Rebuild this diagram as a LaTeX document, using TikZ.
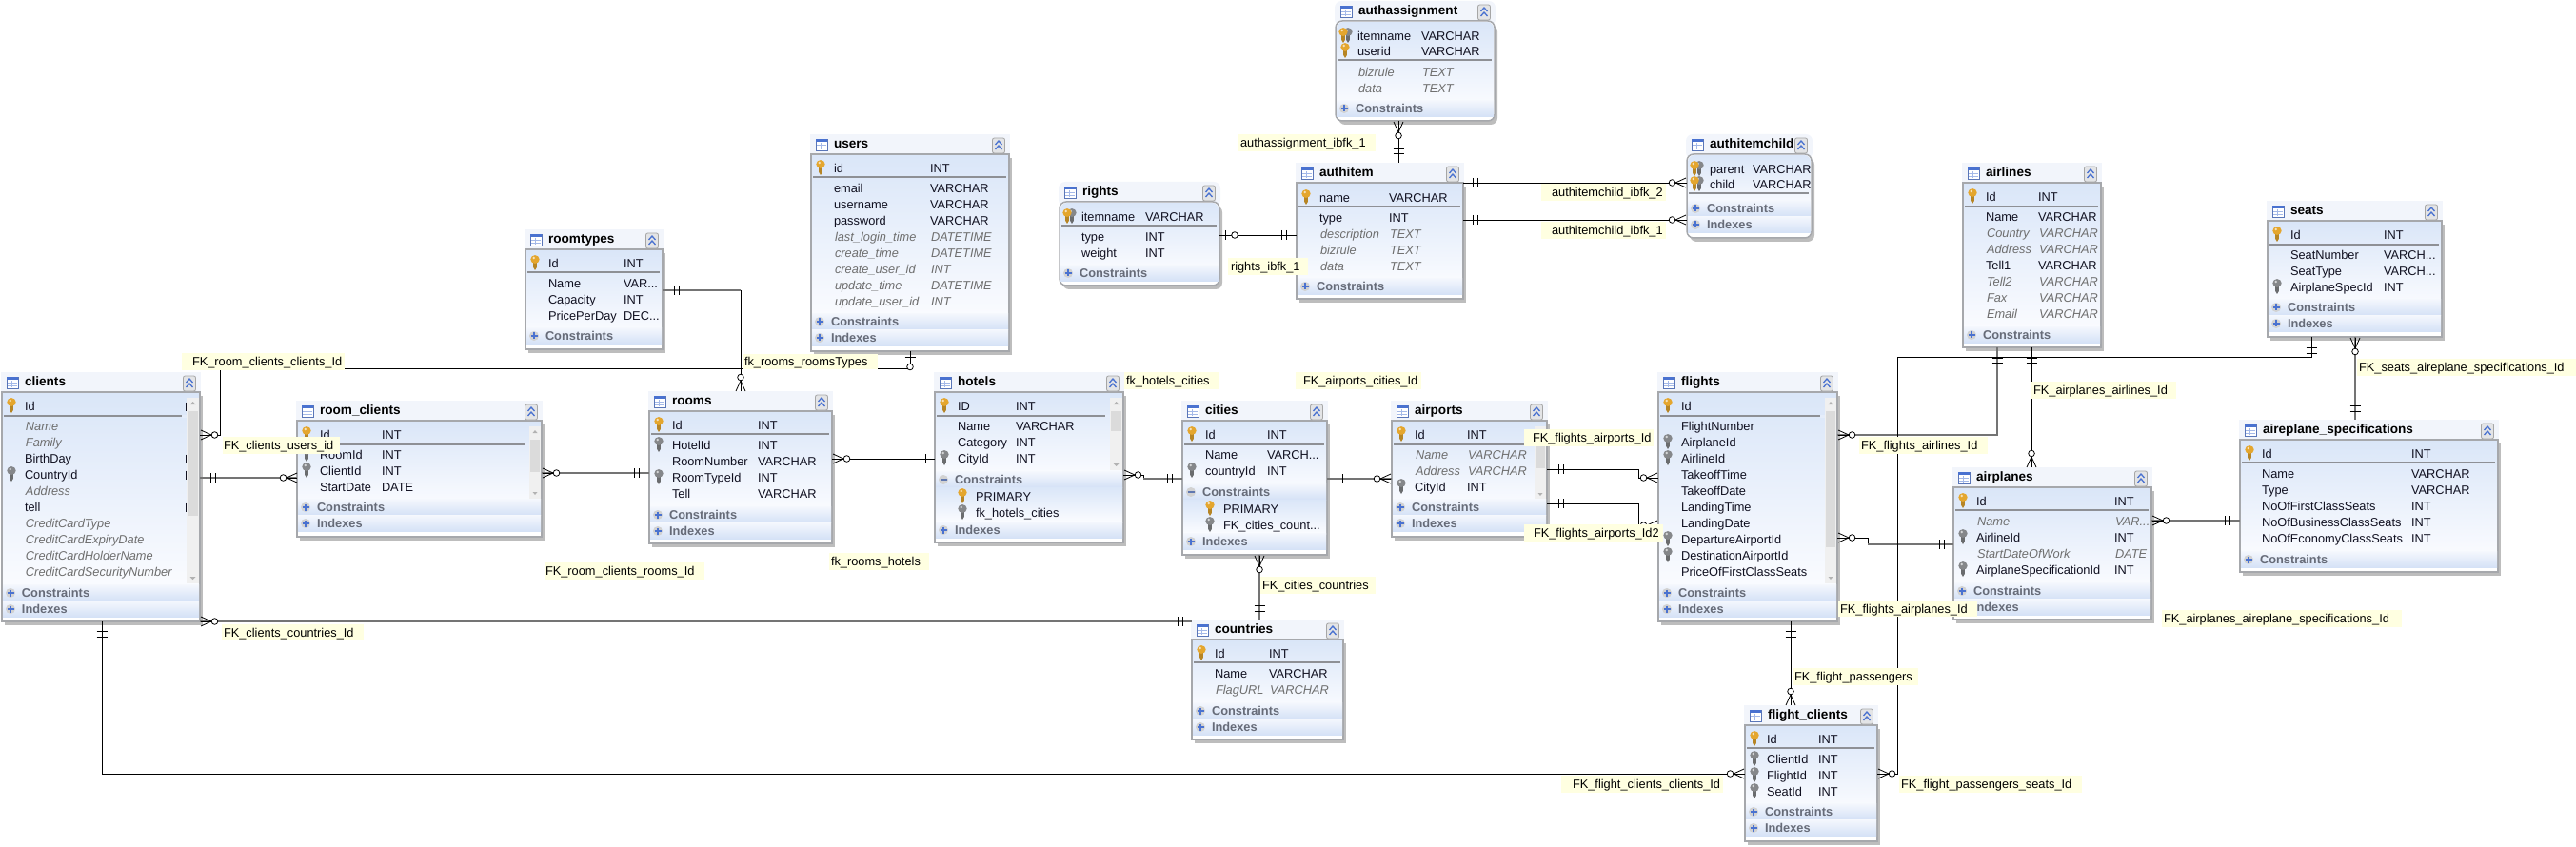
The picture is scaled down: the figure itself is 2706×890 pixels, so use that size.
\documentclass[tikz,border=0pt]{standalone}
\usepackage{fontspec}
\setmainfont{Liberation Sans}
\definecolor{ink}{HTML}{101020}
\definecolor{itc}{HTML}{6E6E6E}
\definecolor{bandc}{HTML}{666B78}
\definecolor{bodytop}{HTML}{DAE6F8}
\definecolor{bodybot}{HTML}{FBFCFF}
\definecolor{bandtop}{HTML}{F4F7FD}
\definecolor{bandbot}{HTML}{D4E1F6}
\definecolor{titlec}{HTML}{F2F5FB}
\definecolor{shadowc}{HTML}{BDBDBD}
\definecolor{borderc}{HTML}{A6A8AC}
\definecolor{sepc}{HTML}{8E9095}
\definecolor{lblc}{HTML}{FFFFE1}
\definecolor{thickc}{HTML}{747474}
\definecolor{goldk}{HTML}{E4A62E}
\definecolor{grayk}{HTML}{85878A}
\definecolor{iconb}{HTML}{4A72D0}
\newcounter{tn}
\tikzset{
  celltext/.style={anchor=west,inner sep=0pt,outer sep=0pt,text height=9pt,text depth=0pt,text=ink,font=\fontsize{12.8}{15}\selectfont},
  cellital/.style={celltext,text=itc,font=\fontsize{12.8}{15}\selectfont\itshape},
  celltitle/.style={celltext,text=black,font=\fontsize{13.6}{15}\selectfont\bfseries},
  cellband/.style={celltext,text=bandc,font=\fontsize{12.8}{15}\selectfont\bfseries},
  tblnode/.style={anchor=north west,inner sep=0pt,outer sep=0pt},
  lblnode/.style={anchor=north west,inner sep=0pt,outer sep=0pt,fill=lblc,text height=9pt,text depth=0pt,text=black,font=\fontsize{12.8}{15}\selectfont},
  fkt/.style={line width=0.9pt,black},
  fkg/.style={line width=2pt,thickc},
  tipl/.style={line width=0.8pt,black},
}
\newcommand\cell[4]{\stepcounter{tn}\node[#3] (t\thetn) at (#1,#2) {#4};}
\newcommand\tblicon[2]{%
  \fill[white] (#1-6,#2-6) rectangle (#1+6,#2+6);
  \draw[iconb!70!gray,line width=0.8pt] (#1-6,#2-6) rectangle (#1+6,#2+6);
  \fill[iconb] (#1-6,#2-6) rectangle (#1+6,#2-3);
  \draw[iconb!50!white,line width=0.7pt] (#1-5,#2) -- (#1+5,#2) (#1-5,#2+3) -- (#1+5,#2+3) (#1-1,#2-2) -- (#1-1,#2+5);}
\newcommand\colbtn[2]{%
  \fill[titlec!70!gray!60!white,rounded corners=2pt] (#1-6.5,#2-8) rectangle (#1+6.5,#2+8);
  \draw[gray!70,line width=0.8pt,rounded corners=2pt] (#1-6.5,#2-8) rectangle (#1+6.5,#2+8);
  \draw[iconb,line width=1.3pt] (#1-3.5,#2-1) -- (#1,#2-5) -- (#1+3.5,#2-1) (#1-3.5,#2+4) -- (#1,#2) -- (#1+3.5,#2+4);}
\newcommand\dbtable[9][]{%
  \def\tx{#4}\def\ty{#5}\def\txr{#6}%
  \fill[shadowc,#1] (#4+3,#5+25) rectangle (#6+3,#7+4);
  \fill[titlec,#1] (#4-1,#5) rectangle (#6+1,#5+26);
  \fill[white,#1] (#4,#5+21) rectangle (#6,#7);
  \shade[top color=bodytop,bottom color=bodybot,#1] (#4+1,#5+22) rectangle (#6-1,#8+8);
  \draw[borderc,line width=1.5pt,#1] (#4,#5+21) rectangle (#6,#7);
  \draw[sepc,line width=1.2pt] (#4+2,#9) -- (#6-3,#9);
  \node[tblnode,minimum width={(#6-#4)*1pt},minimum height={(#7-#5)*1pt}] (#2) at (#4,#5) {};
  \tblicon{#4+11}{#5+11}
  \colbtn{#6-11}{#5+12}
  \cell{#4+24}{#5+10}{celltitle}{#3}}
\newcommand\setcols[2]{\def\ca{#1}\def\cb{#2}}
\newcommand\rr[3]{\cell{\ca}{#1}{celltext}{#2}\cell{\cb}{#1}{celltext}{#3}}
\newcommand\ri[3]{\cell{\ca+1}{#1}{cellital}{#2}\cell{\cb+1}{#1}{cellital}{#3}}
\newcommand\rn[2]{\cell{\ca}{#1}{celltext}{#2}}
\newcommand\rni[2]{\cell{\ca+1}{#1}{cellital}{#2}}
\newcommand\keyicon[3]{%
  \begin{scope}[shift={(#1,#2)}]
    \fill[#3!80!black] (-1.8,-2) -- (1.8,-2) -- (1.8,5) -- (0,8) -- (-1.8,5) -- cycle;
    \fill[#3] (0,-3.5) ellipse (4.7 and 4.4);
    \fill[#3!35!white] (-1.2,-5) circle (1.4);
  \end{scope}}
\newcommand\kg[1]{\keyicon{\tx+10}{#1-1}{goldk}}
\newcommand\kk[1]{\keyicon{\tx+10}{#1-1}{grayk}}
\newcommand\kd[1]{\keyicon{\tx+13}{#1-1}{grayk}\keyicon{\tx+8}{#1-1}{goldk}}
\newcommand\bandshade[1]{\shade[top color=bandtop,bottom color=bandbot] (\tx+1,#1-8.5) rectangle (\txr-1,#1+8.5);}
\newcommand\bplus[1]{%
  \bandshade{#1}
  \fill[gray!35!white] (\tx+9,#1) circle (5);
  \draw[iconb,line width=1.4pt] (\tx+5.5,#1) -- (\tx+12.5,#1) (\tx+9,#1-3.5) -- (\tx+9,#1+3.5);}
\newcommand\bminus[1]{%
  \bandshade{#1}
  \fill[gray!35!white] (\tx+9,#1) circle (5);
  \draw[iconb!60!gray,line width=1.4pt] (\tx+5.5,#1) -- (\tx+12.5,#1);}
\newcommand\band[2]{\bplus{#1}\cell{\tx+21}{#1}{cellband}{#2}}
\newcommand\bandm[2]{\bminus{#1}\cell{\tx+21}{#1}{cellband}{#2}}
\newcommand\subshade[2]{\shade[top color=bodytop,bottom color=bodybot] (\tx+1,#1) rectangle (\txr-1,#2);}
\newcommand\subgold[2]{\keyicon{\tx+29}{#1-1}{goldk}\cell{\tx+43}{#1}{celltext}{#2}}
\newcommand\subgray[2]{\keyicon{\tx+29}{#1-1}{grayk}\cell{\tx+43}{#1}{celltext}{#2}}
\newcommand\scrollb[7]{%
  \fill[bodytop!70!white] (#1-5,#7-1.5) rectangle (#1,#7+1.5);
  \fill[gray!12!white] (#1,#3) rectangle (#2,#4);
  \fill[gray!28!white] (#1+1,#5) rectangle (#2-1,#6);
  \fill[gray!60] (#1+3.5,#3+7) -- (#2-3.5,#3+7) -- ({(#1+#2)/2},#3+4) -- cycle;
  \fill[gray!60] (#1+3.5,#4-7) -- (#2-3.5,#4-7) -- ({(#1+#2)/2},#4-4) -- cycle;}
\newcommand\many[3]{%
  \begin{scope}[shift={(#1,#2)},rotate=#3]
    \draw[tipl] (0,-5) -- (11,0) -- (0,5);
    \draw[tipl] (0,0) -- (11,0);
    \draw[tipl,fill=white] (14.5,0) circle (3.3);
  \end{scope}}
\newcommand\vtk[2]{\draw[tipl] (#1,#2-5) -- (#1,#2+5);}
\newcommand\htk[2]{\draw[tipl] (#1-5.5,#2) -- (#1+5.5,#2);}
\newcommand\lbl[6]{\stepcounter{tn}\node[lblnode,minimum height={(#4-#2)*1pt}] (l\thetn) at (#1,#2) {\makebox[\dimexpr#3pt-#1pt\relax][l]{\hspace{\dimexpr#5pt-#1pt\relax}#6}};}
\begin{document}
\begin{tikzpicture}[x=1pt,y=-1pt]
\useasboundingbox (0,0) rectangle (2706,890);
% ---- clients
\dbtable{clients}{clients}{2}{391}{210}{653}{615}{437}
\setcols{26}{195}
\kg{427}\rn{427}{Id}
\rni{448}{Name}\rni{465}{Family}\rn{482}{BirthDay}\kk{499}\rn{499}{CountryId}
\rni{516}{Address}\rn{533}{tell}\rni{550}{CreditCardType}\rni{567}{CreditCardExpiryDate}
\rni{584}{CreditCardHolderName}\rni{601}{CreditCardSecurityNumber}
\scrollb{196}{209}{418}{613}{432}{542}{437}
\foreach \yy in {427,482,499,533} {\draw[ink,line width=0.9pt] (195.5,\yy-4.5) -- (195.5,\yy+4.5);}
\band{623}{Constraints}\band{640}{Indexes}
% ---- room_clients
\dbtable{room_clients}{room\_clients}{312}{421}{569}{564}{525}{467}
\setcols{336}{401}
\kg{457}\rr{457}{Id}{INT}\kk{478}\rr{478}{RoomId}{INT}\kk{495}\rr{495}{ClientId}{INT}\rr{512}{StartDate}{DATE}
\scrollb{556}{568}{448}{524}{462}{496}{467}
\band{533}{Constraints}\band{550}{Indexes}
% ---- roomtypes
\dbtable{roomtypes}{roomtypes}{552}{241}{696}{367}{345}{286}
\setcols{576}{655}
\kg{277}\rr{277}{Id}{INT}\rr{298}{Name}{VAR...}\rr{315}{Capacity}{INT}\rr{332}{PricePerDay}{DEC...}
\band{353}{Constraints}
% ---- users
\dbtable{users}{users}{852}{141}{1060}{369}{330}{186}
\setcols{876}{977}
\kg{177}\rr{177}{id}{INT}\rr{198}{email}{VARCHAR}\rr{215}{username}{VARCHAR}\rr{232}{password}{VARCHAR}
\ri{249}{last\_login\_time}{DATETIME}\ri{266}{create\_time}{DATETIME}\ri{283}{create\_user\_id}{INT}
\ri{300}{update\_time}{DATETIME}\ri{317}{update\_user\_id}{INT}
\band{338}{Constraints}\band{355}{Indexes}
% ---- rooms
\dbtable{rooms}{rooms}{682}{411}{874}{571}{532}{456}
\setcols{706}{796}
\kg{447}\rr{447}{Id}{INT}\kk{468}\rr{468}{HotelId}{INT}\rr{485}{RoomNumber}{VARCHAR}\kk{502}\rr{502}{RoomTypeId}{INT}\rr{519}{Tell}{VARCHAR}
\band{541}{Constraints}\band{558}{Indexes}
% ---- hotels
\dbtable{hotels}{hotels}{982}{391}{1180}{570}{495}{437}
\setcols{1006}{1067}
\kg{427}\rr{427}{ID}{INT}\rr{448}{Name}{VARCHAR}\rr{465}{Category}{INT}\kk{482}\rr{482}{CityId}{INT}
\scrollb{1166}{1179}{418}{494}{432}{453}{437}
\bandm{504}{Constraints}
\subshade{512}{549}
\subgold{522}{PRIMARY}\subgray{539}{fk\_hotels\_cities}
\band{557}{Indexes}
% ---- cities
\dbtable{cities}{cities}{1242}{421}{1394}{583}{508}{467}
\setcols{1266}{1331}
\kg{457}\rr{457}{Id}{INT}\rr{478}{Name}{VARCH...}\kk{495}\rr{495}{countryId}{INT}
\bandm{517}{Constraints}
\subshade{525}{561}
\subgold{535}{PRIMARY}\subgray{552}{FK\_cities\_count...}
\band{569}{Indexes}
% ---- airports
\dbtable{airports}{airports}{1462}{421}{1625}{564}{525}{467}
\setcols{1486}{1541}
\kg{457}\rr{457}{Id}{INT}\ri{478}{Name}{VARCHAR}\ri{495}{Address}{VARCHAR}\kk{512}\rr{512}{CityId}{INT}
\scrollb{1612}{1624}{448}{525}{462}{492}{467}
\band{533}{Constraints}\band{550}{Indexes}
% ---- flights
\dbtable{flights}{flights}{1742}{391}{1930}{653}{615}{437}
\setcols{1766}{1900}
\kg{427}\rn{427}{Id}\rn{448}{FlightNumber}\kk{465}\rn{465}{AirplaneId}\kk{482}\rn{482}{AirlineId}
\rn{499}{TakeoffTime}\rn{516}{TakeoffDate}\rn{533}{LandingTime}\rn{550}{LandingDate}
\kk{567}\rn{567}{DepartureAirportId}\kk{584}\rn{584}{DestinationAirportId}\rn{601}{PriceOfFirstClassSeats}
\scrollb{1917}{1929}{418}{613}{432}{575}{437}
\band{623}{Constraints}\band{640}{Indexes}
% ---- countries
\dbtable{countries}{countries}{1252}{651}{1411}{777}{739}{696}
\setcols{1276}{1333}
\kg{687}\rr{687}{Id}{INT}\rr{708}{Name}{VARCHAR}\ri{725}{FlagURL}{VARCHAR}
\band{747}{Constraints}\band{764}{Indexes}
% ---- authassignment
\dbtable[rounded corners=7pt]{authassignment}{authassignment}{1403}{1}{1570}{127}{106}{63}
\setcols{1426}{1493}
\kd{38}\rr{38}{itemname}{VARCHAR}\kg{54}\rr{54}{userid}{VARCHAR}\ri{76}{bizrule}{TEXT}\ri{93}{data}{TEXT}
\band{114}{Constraints}
% ---- authitem
\dbtable{authitem}{authitem}{1362}{171}{1537}{314}{293}{217}
\setcols{1386}{1459}
\kg{208}\rr{208}{name}{VARCHAR}\rr{229}{type}{INT}\ri{246}{description}{TEXT}\ri{263}{bizrule}{TEXT}\ri{280}{data}{TEXT}
\band{301}{Constraints}
% ---- rights
\dbtable[rounded corners=7pt]{rights}{rights}{1113}{191}{1281}{300}{279}{237}
\setcols{1136}{1203}
\kd{228}\rr{228}{itemname}{VARCHAR}\rr{249}{type}{INT}\rr{266}{weight}{INT}
\band{287}{Constraints}
% ---- authitemchild
\dbtable[rounded corners=7pt]{authitemchild}{authitemchild}{1772}{141}{1903}{250}{211}{203}
\setcols{1796}{1841}
\kd{178}\rr{178}{parent}{VARCHAR}\kd{194}\rr{194}{child}{VARCHAR}
\band{219}{Constraints}\band{236}{Indexes}
% ---- airlines
\dbtable{airlines}{airlines}{2062}{171}{2207}{365}{344}{217}
\setcols{2086}{2141}
\kg{207}\rr{207}{Id}{INT}\rr{228}{Name}{VARCHAR}\ri{245}{Country}{VARCHAR}\ri{262}{Address}{VARCHAR}\rr{279}{Tell1}{VARCHAR}\ri{296}{Tell2}{VARCHAR}\ri{313}{Fax}{VARCHAR}\ri{330}{Email}{VARCHAR}
\band{352}{Constraints}
% ---- seats
\dbtable{seats}{seats}{2382}{211}{2565}{354}{315}{257}
\setcols{2406}{2504}
\kg{247}\rr{247}{Id}{INT}\rr{268}{SeatNumber}{VARCH...}\rr{285}{SeatType}{VARCH...}\kk{302}\rr{302}{AirplaneSpecId}{INT}
\band{323}{Constraints}\band{340}{Indexes}
% ---- aireplane_specifications
\dbtable{aireplane_specifications}{aireplane\_specifications}{2353}{441}{2624}{601}{580}{486}
\setcols{2376}{2533}
\kg{477}\rr{477}{Id}{INT}\rr{498}{Name}{VARCHAR}\rr{515}{Type}{VARCHAR}\rr{532}{NoOfFirstClassSeats}{INT}\rr{549}{NoOfBusinessClassSeats}{INT}\rr{566}{NoOfEconomyClassSeats}{INT}
\band{588}{Constraints}
% ---- airplanes
\dbtable{airplanes}{airplanes}{2052}{491}{2260}{651}{612}{536}
\setcols{2076}{2221}
\kg{527}\rr{527}{Id}{INT}\ri{548}{Name}{VAR...}\kk{565}\rr{565}{AirlineId}{INT}\ri{582}{StartDateOfWork}{DATE}\kk{599}\rr{599}{AirplaneSpecificationId}{INT}
\band{621}{Constraints}\band{638}{Indexes}
% ---- flight_clients
\dbtable{flight_clients}{flight\_clients}{1833}{741}{1972}{884}{845}{786}
\setcols{1856}{1910}
\kg{777}\rr{777}{Id}{INT}\kk{798}\rr{798}{ClientId}{INT}\kk{815}\rr{815}{FlightId}{INT}\kk{832}\rr{832}{SeatId}{INT}
\band{853}{Constraints}\band{870}{Indexes}

% ======== connectors
% FK_clients_users_id
\draw[fkt] (clients.east |- 0,457) -| (231,387) -| (users.south -| 956,0);
\many{211}{457}{0}
\htk{956}{375}
\draw[tipl,fill=white] (956,385.5) circle (3.3);
% FK_room_clients_clients_Id
\draw[fkg] (clients.east |- 0,502) -- (room_clients.west |- 0,502);
\vtk{221}{502}\vtk{226}{502}
\many{312}{502}{180}
% fk_rooms_roomsTypes
\draw[fkg] (roomtypes.east |- 0,305) -- (778,305);
\draw[fkt] (778,305) -- (rooms.north -| 778,0);
\vtk{708}{305}\vtk{713}{305}
\many{778}{411}{90}
% FK_room_clients_rooms_Id
\draw[fkg] (room_clients.east |- 0,497) -- (rooms.west |- 0,497);
\many{570}{497}{0}
\vtk{666}{497}\vtk{671}{497}
% fk_rooms_hotels
\draw[fkt] (rooms.east |- 0,482) -- (hotels.west |- 0,482);
\many{875}{482}{0}
\vtk{967}{482}\vtk{972}{482}
% fk_hotels_cities
\draw[fkt] (hotels.east |- 0,499) -- (1201,499) -- (1201,503);
\draw[fkg] (1201,503) -- (cities.west |- 0,503);
\many{1181}{499}{0}
\vtk{1226}{503}\vtk{1231}{503}
% FK_airports_cities_Id
\draw[fkg] (cities.east |- 0,503) -- (airports.west |- 0,503);
\vtk{1405}{503}\vtk{1410}{503}
\many{1461}{503}{180}
% FK_cities_countries
\draw[fkg] (cities.south -| 1323,0) -- (countries.north -| 1323,0);
\many{1323}{584}{270}
\htk{1323}{636}\htk{1323}{642}
% FK_clients_countries_Id
\draw[fkg] (clients.east |- 0,653) -- (countries.west |- 0,653);
\many{211}{653}{0}
\vtk{1237}{653}\vtk{1242}{653}
% FK_flight_clients_clients_Id
\draw[fkt] (clients.south -| 107,0) |- (flight_clients.west |- 0,813);
\htk{107}{663}\htk{107}{669}
\many{1832}{813}{180}
% FK_flights_airports_Id
\draw[fkt] (airports.east |- 0,493) -| (1721,502) -- (flights.west |- 0,502);
\vtk{1637}{493}\vtk{1642}{493}
\many{1741}{502}{180}
% FK_flights_airports_Id2
\draw[fkt] (airports.east |- 0,529) -| (1721,552) -- (flights.west |- 0,552);
\vtk{1637}{529}\vtk{1642}{529}
\many{1741}{552}{180}
% FK_flights_airlines_Id
\draw[fkg] (flights.east |- 0,457) -| (airlines.south -| 2098,0);
\many{1931}{457}{0}
\htk{2098}{376}\htk{2098}{381}
% FK_airplanes_airlines_Id
\draw[fkt] (airlines.south -| 2134,0) -- (airplanes.north -| 2134,0);
\htk{2134}{376}\htk{2134}{381}
\many{2134}{491}{90}
% FK_flights_airplanes_Id
\draw[fkt] (flights.east |- 0,565) -| (1962,572);
\draw[fkg] (1962,572) -- (airplanes.west |- 0,572);
\many{1931}{565}{0}
\vtk{2037}{572}\vtk{2042}{572}
% FK_airplanes_aireplane_specifications_Id
\draw[fkg] (airplanes.east |- 0,547) -- (aireplane_specifications.west |- 0,547);
\many{2261}{547}{0}
\vtk{2337}{547}\vtk{2342}{547}
% FK_seats_aireplane_specifications_Id
\draw[fkg] (seats.south -| 2474,0) -- (aireplane_specifications.north -| 2474,0);
\many{2474}{355}{270}
\htk{2474}{426}\htk{2474}{432}
% FK_flight_passengers_seats_Id
\draw[fkt] (seats.south -| 2428,0) |- (1993,375) |- (flight_clients.east |- 0,813);
\htk{2428}{365}\htk{2428}{371}
\many{1973}{813}{0}
% FK_flight_passengers
\draw[fkt] (flights.south -| 1881,0) -- (flight_clients.north -| 1881,0);
\htk{1881}{663}\htk{1881}{669}
\many{1881}{741}{90}
% rights_ibfk_1
\draw[fkt] (rights.east |- 0,247) -- (authitem.west |- 0,247);
\vtk{1287}{247}
\draw[tipl,fill=white] (1297,247) circle (3.3);
\vtk{1346}{247}\vtk{1351}{247}
% authassignment_ibfk_1
\draw[fkt] (authassignment.south -| 1469,0) -- (authitem.north -| 1469,0);
\many{1469}{128}{270}
\htk{1469}{156}\htk{1469}{161}
% authitemchild_ibfk_2
\draw[fkt] (authitem.east |- 0,192) -- (authitemchild.west |- 0,192);
\vtk{1547}{192}\vtk{1552}{192}
\many{1771}{192}{180}
% authitemchild_ibfk_1
\draw[fkt] (authitem.east |- 0,231) -- (authitemchild.west |- 0,231);
\vtk{1547}{231}\vtk{1552}{231}
\many{1771}{231}{180}

% ======== labels
\lbl{191}{371}{362}{389}{202}{FK\_room\_clients\_clients\_Id}
\lbl{234}{459}{357}{477}{235}{FK\_clients\_users\_id}
\lbl{233}{656}{382}{673}{235}{FK\_clients\_countries\_Id}
\lbl{572}{591}{740}{609}{573}{FK\_room\_clients\_rooms\_Id}
\lbl{780}{372}{922}{388}{782}{fk\_rooms\_roomsTypes}
\lbl{871}{581}{976}{599}{873}{fk\_rooms\_hotels}
\lbl{1181}{391}{1280}{409}{1183}{fk\_hotels\_cities}
\lbl{1361}{391}{1493}{409}{1369}{FK\_airports\_cities\_Id}
\lbl{1324}{606}{1445}{624}{1326}{FK\_cities\_countries}
\lbl{1300}{141}{1445}{159}{1303}{authassignment\_ibfk\_1}
\lbl{1290}{271}{1374}{289}{1293}{rights\_ibfk\_1}
\lbl{1619}{193}{1750}{211}{1630}{authitemchild\_ibfk\_2}
\lbl{1619}{233}{1750}{251}{1630}{authitemchild\_ibfk\_1}
\lbl{1601}{451}{1737}{469}{1610}{FK\_flights\_airports\_Id}
\lbl{1601}{551}{1747}{569}{1611}{FK\_flights\_airports\_Id2}
\lbl{1953}{459}{2088}{477}{1955}{FK\_flights\_airlines\_Id}
\lbl{2134}{401}{2286}{419}{2136}{FK\_airplanes\_airlines\_Id}
\lbl{2476}{377}{2706}{395}{2478}{FK\_seats\_aireplane\_specifications\_Id}
\lbl{1931}{631}{2077}{648}{1933}{FK\_flights\_airplanes\_Id}
\lbl{2271}{641}{2523}{659}{2273}{FK\_airplanes\_aireplane\_specifications\_Id}
\lbl{1883}{702}{2015}{720}{1885}{FK\_flight\_passengers}
\lbl{1640}{815}{1810}{833}{1652}{FK\_flight\_clients\_clients\_Id}
\lbl{1995}{815}{2187}{833}{1997}{FK\_flight\_passengers\_seats\_Id}
\end{tikzpicture}
\end{document}
